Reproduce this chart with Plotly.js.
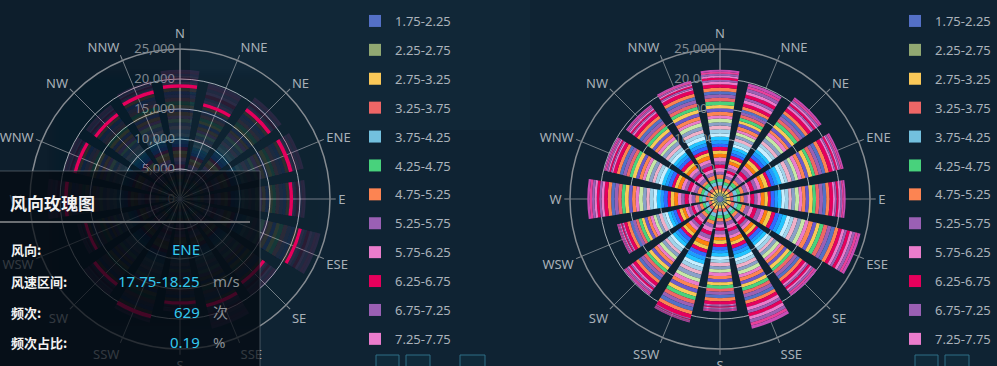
<!DOCTYPE html>
<html><head><meta charset="utf-8">
<script src="https://cdn.plot.ly/plotly-3.0.1.min.js"></script>
<style>html,body{margin:0;padding:0;background:#0f2333;overflow:hidden;}#chart{width:997px;height:366px;}</style>
</head><body><div id="chart"></div>
<script>
const directions = ['N','NNE','NE','ENE','E','ESE','SE','SSE','S','SSW','SW','WSW','W','WNW','NW','NNW'];
const speedBins = ['1.75-2.25','2.25-2.75','2.75-3.25','3.25-3.75','3.75-4.25','4.25-4.75','4.75-5.25','5.25-5.75','5.75-6.25','6.25-6.75','6.75-7.25','7.25-7.75','7.75-8.25','8.25-8.75','8.75-9.25','9.25-9.75','9.75-10.25','10.25-10.75','10.75-11.25','11.25-11.75','11.75-12.25','12.25-12.75','12.75-13.25','13.25-13.75','13.75-14.25','14.25-14.75','14.75-15.25','15.25-15.75','15.75-16.25','16.25-16.75','16.75-17.25','17.25-17.75','17.75-18.25','18.25-18.75','18.75-19.25','19.25-19.75','19.75-20.25','20.25-20.75','20.75-21.25','21.25-21.75'];
const radialTicks = [0,5000,10000,15000,20000,25000];

const freqN   = [520,610,480,650,590,540,700,460,630,580,510,670,600,550,620,490,640,570,530,690,600,560,610,500,650,580,540,620,590,560,530,560,600,420,310,380,290,360,330,310];
const freqNNE = [450,530,410,560,500,470,590,420,540,480,440,570,510,460,530,430,550,490,450,580,510,480,520,430,560,500,460,530,500,480,450,480,560,520,450,560,470,510,430,480];
const freqNE  = [600,520,640,480,570,610,530,680,500,590,620,540,560,650,490,580,600,530,660,510,570,600,550,620,480,590,560,610,540,570,520,560,600,340,280,360,300,330,290,300];
const freqENE = [560,640,510,600,680,530,590,620,490,650,570,610,540,700,520,580,630,560,600,510,660,570,540,620,590,550,640,500,610,580,560,600,629,300,250,290,240,280,260,270];
const freqE   = [580,500,620,550,660,490,600,570,530,640,510,590,620,560,480,650,540,600,570,610,520,580,640,500,590,560,620,530,570,600,540,550,580,320,280,330,290,310,270,300];
const freqESE = [650,590,700,610,560,680,630,720,580,640,690,600,550,710,620,660,590,700,640,570,680,620,660,600,730,610,580,650,690,620,640,600,560,480,420,500,440,470,430,460];
const freqSE  = [540,480,590,510,620,460,560,530,500,600,470,550,580,520,440,610,500,560,530,570,490,540,600,460,550,520,580,490,530,560,510,520,560,360,320,370,330,350,340,330];
const freqSSE = [560,620,500,590,540,650,480,600,570,530,630,510,580,550,610,490,570,620,530,560,600,500,590,540,620,520,560,580,540,600,530,550,580,540,480,560,500,550,490,530];
const freqS   = [520,570,480,550,600,500,540,470,580,510,560,530,490,590,520,550,480,570,540,510,600,490,530,560,500,550,520,570,490,540,510,540,540,190,150,180,160,170,190,160];
const freqSSW = [620,560,680,590,640,700,570,610,660,590,630,550,690,620,580,650,600,670,560,640,610,680,590,630,570,650,620,600,660,580,630,610,650,120,90,110,80,100,90,110];
const freqSW  = [550,500,610,520,580,470,600,540,510,620,490,560,590,530,460,600,520,570,540,580,500,550,610,480,560,530,590,500,540,570,520,530,580,290,250,300,260,280,250,270];
const freqWSW = [480,530,450,520,560,470,510,440,540,490,520,500,460,550,480,510,450,530,500,480,560,460,500,520,470,510,490,530,460,500,480,510,520,180,160,190,170,180,150,170];
const freqW   = [600,540,650,570,620,510,640,580,550,660,530,600,630,570,500,640,560,610,580,620,540,590,650,520,600,570,630,540,580,610,560,570,600,420,370,430,380,410,390,400];
const freqWNW = [560,510,620,540,590,480,610,550,520,630,500,570,600,540,470,610,530,580,550,590,510,560,620,490,570,540,600,510,550,580,530,540,560,240,210,250,220,240,210,230];
const freqNW  = [530,580,490,560,510,600,470,550,590,520,480,570,540,500,610,520,560,490,580,530,550,600,480,540,570,510,560,530,500,560,540,520,540,260,220,270,230,250,230,240];
const freqNNW = [570,520,630,550,600,490,620,560,530,640,510,580,610,550,480,620,540,590,560,600,520,570,630,500,580,550,610,520,560,590,540,550,580,250,220,260,220,240,220,240];

const dirData = [freqN,freqNNE,freqNE,freqENE,freqE,freqESE,freqSE,freqSSE,freqS,freqSSW,freqSW,freqWSW,freqW,freqWNW,freqNW,freqNNW];
const highlightDir = 3;     // ENE
const highlightBin = 32;    // 17.75-18.25

const binColors = ['#5470c6','#91a872','#fac858','#ee6666','#73c0de','#48d27c','#fc8452','#9a60b4','#ea7ccc','#e6005c',
 '#9a60b4','#ea7ccc','#ff7f0e','#f2c94c','#e6005c','#3366ff','#1e9bff','#20c4ff','#c8efff','#9fd3ea',
 '#f0b0c8','#8aa0c8','#c6e8a6','#ea7ccc','#fc8452','#6a5acd','#fac858','#48d27c','#ee6666','#9a60b4',
 '#5470c6','#fc8452','#e6005c','#ea7ccc','#9a60b4','#e6005c','#ea7ccc','#9a60b4','#e8409a','#c84cb4'];

const W = 997, H = 366;
const px = v => v / W, py = v => 1 - v / H;
const FONT = 'Noto Sans, Noto Sans CJK SC, sans-serif';

const traces = [];
speedBins.forEach((bin, i) => {
  traces.push({type:'barpolar', subplot:'polar', name:bin, theta:directions, r:dirData.map(d => d[i]),
    marker:{color:binColors[i], line:{width:0}}, opacity: i === highlightBin ? 1 : 0.14,
    showlegend:false, hoverinfo:'skip'});
});
speedBins.forEach((bin, i) => {
  traces.push({type:'barpolar', subplot:'polar', name:bin, theta:['N'], r:[0], legend:'legend',
    legendgroup:'L'+i, marker:{color:binColors[i], line:{width:0}}, showlegend: i < 12, hoverinfo:'skip'});
});
speedBins.forEach((bin, i) => {
  traces.push({type:'barpolar', subplot:'polar2', name:bin, theta:directions, r:dirData.map(d => d[i]), legend:'legend2',
    legendgroup:'R'+i, marker:{color:binColors[i], line:{width:0}}, showlegend: i < 12, hoverinfo:'skip'});
});

function angAxis(){ return {type:'category', categoryarray:directions, direction:'clockwise', rotation:90,
  showline:true, linecolor:'#858b91', linewidth:1.5, showgrid:true, gridcolor:'rgba(150,156,162,0.75)', gridwidth:1,
  ticks:'outside', ticklen:5, tickcolor:'#858b91', tickfont:{family:FONT, size:13, color:'#a8b0b8'}, layer:'below traces'}; }
function radAxis(){ return {range:[0,25000], tickvals:radialTicks, tickformat:',', angle:90, side:'counterclockwise', tickangle:90,
  showline:true, linecolor:'#858b91', linewidth:1, gridcolor:'rgba(215,219,223,0.75)', gridwidth:1, ticks:'',
  tickfont:{family:FONT, size:13, color:'#7f8890'}, layer:'below traces'}; }

const legendBase = {yanchor:'top', xanchor:'left', y:py(6), bgcolor:'rgba(0,0,0,0)', borderwidth:0,
  font:{family:FONT, size:13, color:'#aab2ba'}, traceorder:'grouped', tracegroupgap:9, itemclick:false, itemdoubleclick:false};

const shapes = [
  {type:'rect', xref:'paper', yref:'paper', x0:px(190), x1:px(530), y0:py(0), y1:py(130), fillcolor:'rgba(30,60,80,0.18)', line:{width:0}, layer:'below'},
  {type:'rect', xref:'paper', yref:'paper', x0:px(0), x1:px(190), y0:py(0), y1:py(366), fillcolor:'rgba(0,0,0,0.12)', line:{width:0}, layer:'below'},
  {type:'rect', xref:'paper', yref:'paper', x0:px(-5), x1:px(260), y0:py(171), y1:py(372), fillcolor:'rgba(4,10,16,0.72)', line:{color:'rgba(110,120,130,0.6)', width:1}, layer:'above'},
  {type:'line', xref:'paper', yref:'paper', x0:px(0), x1:px(250), y0:py(222), y1:py(222), line:{color:'#6b6f73', width:2}, layer:'above'},
];
[[376,399],[406,430],[460,485],[915,938],[945,969]].forEach(([a,b]) => {
  shapes.push({type:'rect', xref:'paper', yref:'paper', x0:px(a), x1:px(b), y0:py(355), y1:py(372), fillcolor:'#0f2a3a', line:{color:'#2f6f86', width:1}, layer:'above'});
});

const total = dirData.reduce((s, d) => s + d.reduce((a, b) => a + b, 0), 0);
const hv = dirData[highlightDir][highlightBin];
const pct = (hv / total * 100).toFixed(2);

const ann = (text, x, y, opt) => Object.assign({text, x:px(x), y:py(y), xref:'paper', yref:'paper', showarrow:false, yanchor:'middle'}, opt);
const white = {family:'Noto Sans CJK SC, sans-serif', size:13, color:'#f2f2f2', weight:700};
const cyan = {family:FONT, size:15, color:'#35c9ef'};
const grey = {family:'Noto Sans, Noto Sans CJK SC, sans-serif', size:15, color:'#8a9096'};
const annotations = [
  ann('风向玫瑰图', 8, 203, {xanchor:'left', font:{family:'Noto Sans CJK SC, sans-serif', size:17, color:'#f2f2f2', weight:700}}),
  ann('风向:', 9, 249, {xanchor:'left', font:white}),
  ann('风速区间:', 9, 281, {xanchor:'left', font:white}),
  ann('频次:', 9, 312, {xanchor:'left', font:white}),
  ann('频次占比:', 9, 342, {xanchor:'left', font:white}),
  ann(directions[highlightDir], 202, 249, {xanchor:'right', font:cyan}),
  ann(speedBins[highlightBin], 202, 281, {xanchor:'right', font:cyan}),
  ann(String(hv), 202, 312, {xanchor:'right', font:cyan}),
  ann(pct, 202, 342, {xanchor:'right', font:cyan}),
  ann('m/s', 211, 281, {xanchor:'left', font:grey}),
  ann('次', 211, 312, {xanchor:'left', font:grey}),
  ann('%', 211, 342, {xanchor:'left', font:grey}),
];

const layout = {
  width:W, height:H, margin:{l:0,r:0,t:0,b:0}, paper_bgcolor:'#0f2333', plot_bgcolor:'rgba(0,0,0,0)',
  polar:{domain:{x:[px(30),px(330)], y:[py(349),py(49)]}, bgcolor:'rgba(0,0,0,0)', bargap:0.23, barmode:'stack', angularaxis:angAxis(), radialaxis:radAxis()},
  polar2:{domain:{x:[px(570),px(870)], y:[py(349),py(49)]}, bgcolor:'rgba(0,0,0,0)', bargap:0.23, barmode:'stack', angularaxis:angAxis(), radialaxis:radAxis()},
  legend:Object.assign({}, legendBase, {x:px(355)}),
  legend2:Object.assign({}, legendBase, {x:px(895)}),
  shapes, annotations, showlegend:true
};

Plotly.newPlot('chart', traces, layout, {displayModeBar:false, staticPlot:true});
</script></body></html>
